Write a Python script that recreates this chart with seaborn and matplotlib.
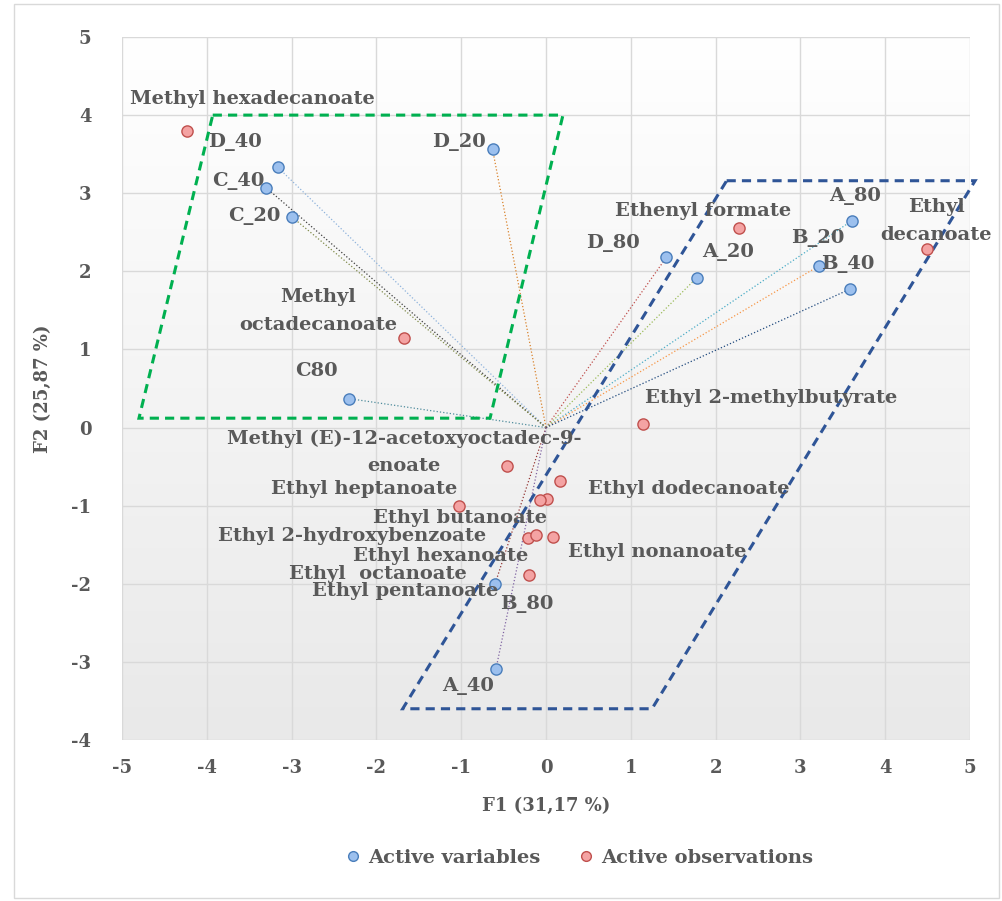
import numpy as np
import pandas as pd
import matplotlib
matplotlib.use('Agg')
import matplotlib.pyplot as plt
from matplotlib.colors import LinearSegmentedColormap
from matplotlib.patches import Polygon, Rectangle
from matplotlib.lines import Line2D
import seaborn as sns

# Active variables (loadings)
var_names = ['D_40', 'C_40', 'C_20', 'C80', 'D_20', 'D_80',
             'A_20', 'A_80', 'B_20', 'B_40', 'B_80', 'A_40']
var_f1 = [-3.16, -3.30, -3.00, -2.32, -0.63, 1.42, 1.78, 3.61, 3.22, 3.58, -0.60, -0.59]
var_f2 = [3.33, 3.07, 2.70, 0.37, 3.56, 2.18, 1.92, 2.65, 2.07, 1.77, -2.00, -3.09]

# Active observations (scores)
obs_names = ['Methyl hexadecanoate', 'Methyl\noctadecanoate', 'Ethenyl formate',
             'Ethyl\ndecanoate', 'Ethyl 2-methylbutyrate',
             'Methyl (E)-12-acetoxyoctadec-9-\nenoate', 'Ethyl dodecanoate',
             'Ethyl heptanoate', 'Ethyl butanoate', 'Ethyl 2-hydroxybenzoate',
             'Ethyl nonanoate', 'Ethyl hexanoate', 'Ethyl  octanoate', 'Ethyl pentanoate']
obs_f1 = [-4.23, -1.67, 2.28, 4.49, 1.14, -0.46, 0.17, -1.03, 0.01, -0.21, 0.08, -0.12, -0.07, -0.20]
obs_f2 = [3.80, 1.15, 2.56, 2.28, 0.05, -0.49, -0.68, -1.01, -0.92, -1.42, -1.40, -1.37, -0.93, -1.89]

# label centres in pixel coordinates of the original figure
label_px = {
    'D_40': (235, 142), 'C_40': (238, 181), 'C_20': (254, 216), 'C80': (316, 371),
    'D_20': (459, 142), 'D_80': (613, 243), 'A_20': (728, 252), 'A_80': (855, 196),
    'B_20': (818, 238), 'B_40': (848, 264), 'B_80': (527, 604), 'A_40': (468, 686),
    'Methyl hexadecanoate': (252, 99), 'Methyl\noctadecanoate': (318, 311),
    'Ethenyl formate': (703, 211), 'Ethyl\ndecanoate': (936, 221),
    'Ethyl 2-methylbutyrate': (771, 398),
    'Methyl (E)-12-acetoxyoctadec-9-\nenoate': (404, 452),
    'Ethyl dodecanoate': (689, 489), 'Ethyl heptanoate': (364, 489),
    'Ethyl butanoate': (460, 518), 'Ethyl 2-hydroxybenzoate': (352, 536),
    'Ethyl nonanoate': (657, 552), 'Ethyl hexanoate': (441, 556),
    'Ethyl  octanoate': (378, 574), 'Ethyl pentanoate': (405, 591),
}

line_colors = ['#8fb3dc', '#404040', '#7f8a4a', '#4f8c9c', '#d9822b', '#c0504d',
               '#9bbb59', '#4bacc6', '#f79646', '#1f497d', '#943634', '#8064a2']

green_box_x = [-3.93, 0.20, -0.66, -4.80]
green_box_y = [4.00, 4.00, 0.12, 0.12]
blue_box_x = [2.13, 5.06, 1.25, -1.69]
blue_box_y = [3.16, 3.16, -3.60, -3.60]

TXT = '#595959'
FONT = 'DejaVu Serif'

sns.set_theme(style='whitegrid')
plt.rcParams['font.family'] = FONT
plt.rcParams['font.weight'] = 'bold'
plt.rcParams['axes.unicode_minus'] = False

fig = plt.figure(figsize=(10.02, 9.01), dpi=100)
ax = fig.add_axes([122 / 1002, 1 - 740 / 901, 848 / 1002, 703 / 901])

# outer frame
fig.patches.append(Rectangle((14 / 1002, 3 / 901), 985 / 1002, 894 / 901,
                             transform=fig.transFigure, fill=False,
                             edgecolor='#d9d9d9', lw=1))

# gradient background
grad = np.linspace(0, 1, 256).reshape(-1, 1)
cmap = LinearSegmentedColormap.from_list('bg', ['#ffffff', '#e9e9e9'])
ax.imshow(grad, extent=[-5, 5, -4, 5], aspect='auto', cmap=cmap, origin='upper', zorder=0)

ax.set_xlim(-5, 5)
ax.set_ylim(-4, 5)
ax.set_xticks(range(-5, 6))
ax.set_yticks(range(-4, 6))
ax.grid(True, color='#d9d9d9', lw=1)
ax.set_axisbelow(True)
for s in ax.spines.values():
    s.set_visible(False)

# vectors from origin
for x, y, c in zip(var_f1, var_f2, line_colors):
    ax.plot([0, x], [0, y], ls=':', lw=0.9, color=c, zorder=2)

# boxes
ax.add_patch(Polygon(np.column_stack([green_box_x, green_box_y]), closed=True, fill=False,
                     edgecolor='#00b050', lw=2.2, ls=(0, (3, 2)), zorder=3))
ax.add_patch(Polygon(np.column_stack([blue_box_x, blue_box_y]), closed=True, fill=False,
                     edgecolor='#2f5597', lw=2.2, ls=(0, (3, 2)), zorder=3, clip_on=False))

df = pd.concat([
    pd.DataFrame({'F1': var_f1, 'F2': var_f2, 'name': var_names, 'kind': 'Active variables'}),
    pd.DataFrame({'F1': obs_f1, 'F2': obs_f2, 'name': obs_names, 'kind': 'Active observations'}),
], ignore_index=True)

pal = {'Active variables': '#9cc0ee', 'Active observations': '#f4a3a3'}
edges = {'Active variables': '#4a7ebb', 'Active observations': '#c0504d'}
for kind, sub in df.groupby('kind'):
    sns.scatterplot(data=sub, x='F1', y='F2', color=pal[kind], edgecolor=edges[kind],
                    linewidth=1.0, s=65, ax=ax, zorder=4, legend=False)

# labels
inv = ax.transData.inverted()
for name in var_names + obs_names:
    px, py = label_px[name]
    dx, dy = inv.transform((px, 901 - py))
    ax.text(dx, dy, name, ha='center', va='center', fontsize=14, color=TXT,
            fontweight='bold', linespacing=1.65, zorder=5)

ax.tick_params(axis='both', length=0, labelsize=13, labelcolor=TXT)
ax.tick_params(axis='y', pad=22)
ax.tick_params(axis='x', pad=14)
for lab in ax.get_xticklabels() + ax.get_yticklabels():
    lab.set_fontweight('bold')

ax.set_xlabel('F1 (31,17 %)', fontsize=13, color=TXT, fontweight='bold', labelpad=14)
ax.set_ylabel('F2 (25,87 %)', fontsize=13, color=TXT, fontweight='bold', labelpad=14)

handles = [Line2D([], [], ls='', marker='o', markersize=7, markerfacecolor=pal[k],
                  markeredgecolor=edges[k]) for k in pal]
fig.legend(handles, list(pal), loc='center', bbox_to_anchor=(0.578, 1 - 858 / 901),
           ncol=2, frameon=False, prop={'family': FONT, 'weight': 'bold', 'size': 14},
           labelcolor=TXT, handlelength=0.8, handletextpad=0.4, columnspacing=1.9)

fig.savefig('out.png', dpi=100)
